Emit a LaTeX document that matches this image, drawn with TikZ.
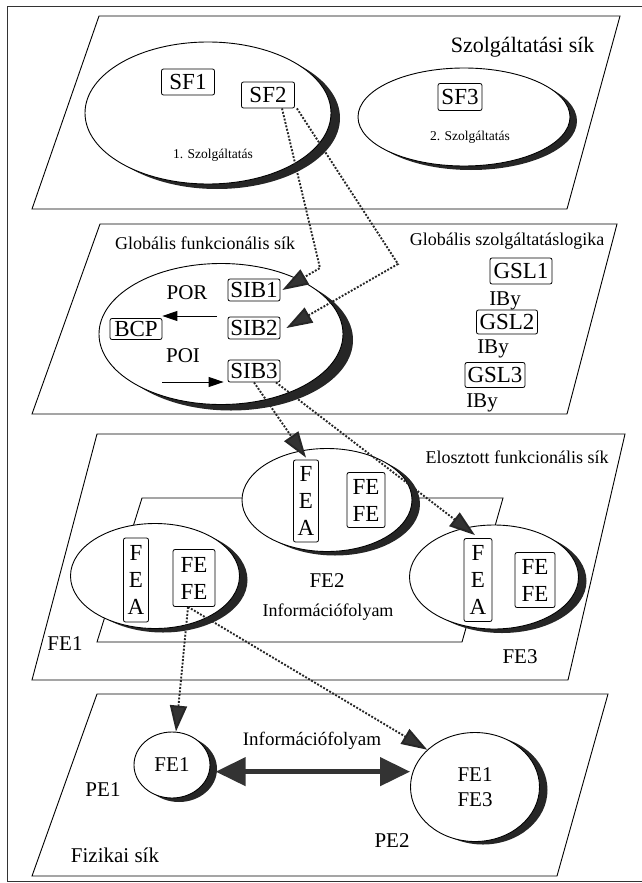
\documentclass[tikz,border=0pt]{standalone}
\usepackage{fontspec}
\setmainfont{Liberation Serif}
\usetikzlibrary{shapes.geometric,shadows,arrows.meta}

\begin{document}
\begin{tikzpicture}[x=1pt,y=-1pt,
    plane/.style={draw,line width=0.9pt},
    sphere/.style n args={2}{ellipse,draw,line width=0.9pt,fill=white,inner sep=0pt,
                 general shadow={fill=black!85,shadow xshift=#1,shadow yshift=#2}},
    fbox/.style={draw,line width=0.8pt,fill=white,rounded corners=2pt,inner sep=1pt,align=center,
                 font=\fontsize{23}{27}\selectfont},
    lbl/.style={font=\fontsize{21}{25}\selectfont},
    title/.style={font=\fontsize{18}{21}\selectfont},
    smalllbl/.style={font=\fontsize{13.5}{16}\selectfont},
    flow/.style={line width=1.9pt,black!85,dash pattern=on 1.9pt off 1.6pt,
                 -{Triangle[length=26pt,width=17pt,fill=black!80]}},
    porarrow/.style={line width=0.9pt,-{Triangle[length=15pt,width=10pt]}},
    infoarrow/.style={line width=4.5pt,black!80,
                 {Triangle[length=30pt,width=28pt]}-{Triangle[length=30pt,width=28pt]}}]
  \useasboundingbox (0,0) rectangle (641,883);
  % frame
  \draw[line width=0.9pt,black!80] (660,6) -- (7,6) -- (7,881) -- (660,881);

  % planes
  \draw[plane] (99,16) -- (620,16) -- (567,209) -- (32,209) -- cycle;
  \draw[plane] (100,224) -- (617,224) -- (567,414) -- (32,414) -- cycle;
  \draw[plane] (97,434) -- (625,434) -- (568,680) -- (32,680) -- cycle;
  \draw[plane] (97,694) -- (608,694) -- (557,876) -- (32,876) -- cycle;
  \draw[plane] (142,498) -- (503,498) -- (462,642) -- (97,642) -- cycle;

  % service plane
  \node[anchor=east,font=\fontsize{22}{26}\selectfont] (svctitle) at (598,47) {Szolgáltatási sík};
  \node[sphere={9pt}{-5pt},minimum width=246pt,minimum height=142pt] (svc1) at (208,113) {};
  \node[sphere={7pt}{-4pt},minimum width=212pt,minimum height=98pt] (svc2) at (464,117) {};
  \node[fbox,minimum width=53pt,minimum height=26pt] (SF1) at (188,82) {SF1};
  \node[fbox,minimum width=53pt,minimum height=26pt] (SF2) at (268,95) {SF2};
  \node[fbox,minimum width=44pt,minimum height=27pt] (SF3) at (460,97) {SF3};
  \node[smalllbl] (svc1lbl) at (213,155) {1. Szolgáltatás};
  \node[smalllbl] (svc2lbl) at (470,137) {2. Szolgáltatás};

  % global functional plane
  \node[title] (gfptitle) at (205,243) {Globális funkcionális sík};
  \node[title] (gsltitle) at (507,241) {Globális szolgáltatáslogika};
  \node[sphere={10pt}{-6pt},minimum width=244pt,minimum height=141pt] (gfp) at (221,334) {};
  \node[fbox,minimum width=52pt,minimum height=22pt] (SIB1) at (254,290) {SIB1};
  \node[fbox,minimum width=52pt,minimum height=22pt] (SIB2) at (254,328) {SIB2};
  \node[fbox,minimum width=52pt,minimum height=22pt] (SIB3) at (254,371) {SIB3};
  \node[fbox,minimum width=52pt,minimum height=21pt] (BCP) at (136,329) {BCP};
  \node[lbl] (POR) at (187,293) {POR};
  \node[lbl] (POI) at (183,356) {POI};
  \coordinate (porstart) at (217,316);
  \coordinate (poistart) at (162,382);
  \draw[porarrow] (porstart) -- (porstart -| BCP.north east);
  \draw[porarrow] (poistart) -- ([xshift=-4pt]poistart -| SIB3.west);
  \node[fbox,minimum width=62pt,minimum height=26pt] (GSL1) at (521,271) {GSL1};
  \node[lbl] (IBy1) at (505,301) {IBy};
  \node[fbox,minimum width=61pt,minimum height=24pt] (GSL2) at (507,322) {GSL2};
  \node[lbl] (IBy2) at (493,349) {IBy};
  \node[fbox,minimum width=60pt,minimum height=25pt] (GSL3) at (495,375) {GSL3};
  \node[lbl] (IBy3) at (482,403) {IBy};

  % distributed functional plane
  \node[title] (dfptitle) at (517,457) {Elosztott funkcionális sík};
  \node[sphere={8pt}{-4pt},minimum width=170pt,minimum height=103pt] (fe2) at (327,500) {};
  \node[sphere={8pt}{-4pt},minimum width=169pt,minimum height=105pt] (fe1) at (155,576) {};
  \node[sphere={8pt}{-4pt},minimum width=169pt,minimum height=104pt] (fe3) at (494,577) {};
  \node[fbox,minimum width=25pt,minimum height=82pt] (feaB) at (306,501) {F\\E\\A};
  \node[fbox,minimum width=38pt,minimum height=55pt] (fefeB) at (366,500) {FE\\FE};
  \node[fbox,minimum width=25pt,minimum height=84pt] (feaA) at (136,580) {F\\E\\A};
  \node[fbox,minimum width=42pt,minimum height=57pt] (fefeA) at (194,578) {FE\\FE};
  \node[fbox,minimum width=28pt,minimum height=83pt] (feaC) at (478,580) {F\\E\\A};
  \node[fbox,minimum width=40pt,minimum height=55pt] (fefeC) at (535,580) {FE\\FE};
  \node[lbl] (fe1lbl) at (65,644) {FE1};
  \node[lbl] (fe2lbl) at (327,581) {FE2};
  \node[lbl] (fe3lbl) at (520,657) {FE3};
  \node[title] (dflow) at (328,612) {Információfolyam};

  % physical plane
  \node[sphere={7pt}{-4pt},minimum width=76pt,minimum height=66pt,lbl] (pe1) at (172,765) {FE1};
  \node[sphere={8pt}{-3pt},minimum width=129pt,minimum height=109pt,lbl,align=center] (pe2) at (475,787) {FE1\\FE3};
  \node[lbl] (pe1lbl) at (103,790) {PE1};
  \node[lbl] (pe2lbl) at (392,841) {PE2};
  \node[lbl] (phytitle) at (115,855) {Fizikai sík};
  \node[font=\fontsize{19}{23}\selectfont] (pflow) at (312,741) {Információfolyam};
  \draw[infoarrow] ([xshift=6pt]pe1.-10) -- (pe1.-10 -| pe2.west);

  % flows between planes
  \coordinate (bendA) at (320,268);
  \coordinate (bendB) at (398,264);
  \draw[flow] ([xshift=14pt]SF2.south) -- (bendA) -- ([xshift=2pt]SIB1.east);
  \draw[flow] ([xshift=2pt]SF2.south east) -- (bendB) -- ([xshift=6pt]SIB2.east);
  \draw[flow] (SIB3.south) -- ([yshift=2pt]feaB.north);
  \draw[flow] ([xshift=22pt]SIB3.south) -- ([xshift=-3pt,yshift=3pt]feaC.north);
  \draw[flow] ([xshift=-6pt]fefeA.south) -- ([xshift=4pt]pe1.north);
  \draw[flow] ([xshift=-6pt]fefeA.south) -- (pe2.142);
\end{tikzpicture}
\end{document}
